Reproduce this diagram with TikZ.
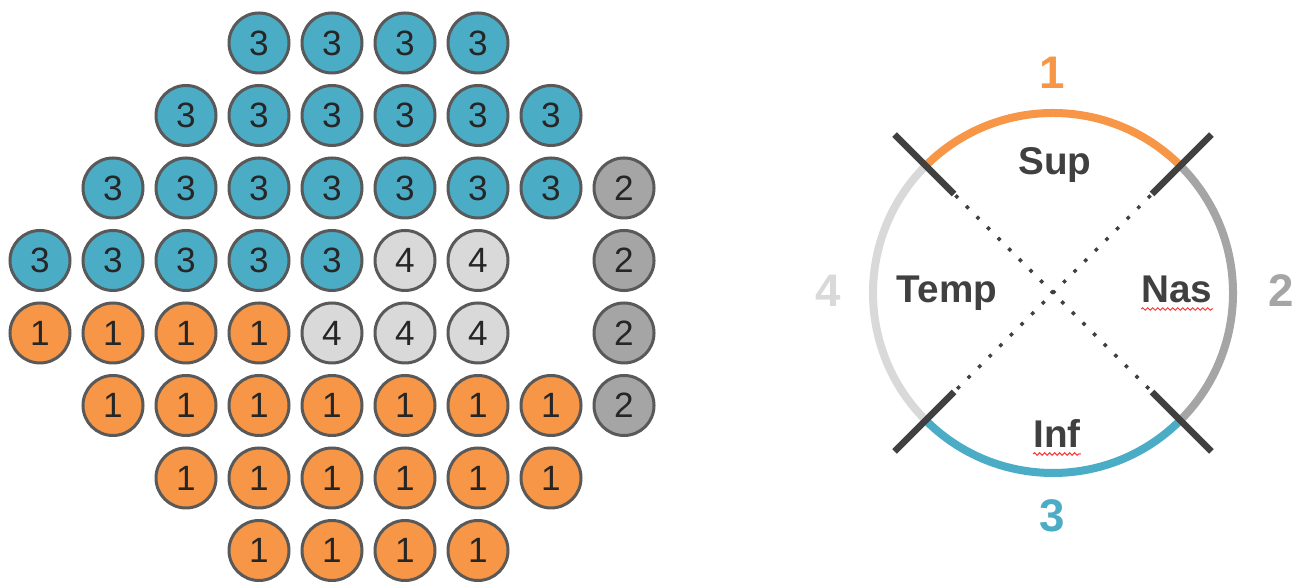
\documentclass[tikz,border=0pt]{standalone}
\usepackage{fontspec}
\setmainfont{Liberation Sans}
\usetikzlibrary{decorations.pathmorphing}

\definecolor{zone1}{HTML}{F79646}
\definecolor{zone2}{HTML}{A5A5A5}
\definecolor{zone3}{HTML}{4BACC6}
\definecolor{zone4}{HTML}{D9D9D9}
\definecolor{rim}{HTML}{595959}
\definecolor{ink}{HTML}{404040}

\tikzset{
  seat/.style={circle, draw=rim, line width=0.6mm, minimum size=12mm, inner sep=0pt,
    text=black!85, font=\fontsize{20}{24}\selectfont},
  band/.style={line width=1.6mm},
  cutmark/.style={draw=ink, line width=1.3mm},
  diag/.style={draw=ink, line width=0.7mm, dash pattern=on 0.7mm off 2.3mm},
  region/.style={text=ink, font=\bfseries\fontsize{22}{26}\selectfont, anchor=base, inner sep=0pt},
  zonelabel/.style={font=\bfseries\fontsize{26}{30}\selectfont, anchor=base},
  squiggle/.style={red!80, line width=0.2mm, decorate,
    decoration={snake, amplitude=0.25mm, segment length=1mm}}
}

\begin{document}
\begin{tikzpicture}[x=0.2mm, y=0.2mm]
	\useasboundingbox (0,0) rectangle (1301,583);
	% seat grid, rows from the top
	\foreach \r/\row in {0/{3/3,4/3,5/3,6/3},
	                     1/{2/3,3/3,4/3,5/3,6/3,7/3},
	                     2/{1/3,2/3,3/3,4/3,5/3,6/3,7/3,8/2},
	                     3/{0/3,1/3,2/3,3/3,4/3,5/4,6/4,8/2},
	                     4/{0/1,1/1,2/1,3/1,4/4,5/4,6/4,8/2},
	                     5/{1/1,2/1,3/1,4/1,5/1,6/1,7/1,8/2},
	                     6/{2/1,3/1,4/1,5/1,6/1,7/1},
	                     7/{3/1,4/1,5/1,6/1}}
		\foreach \c/\v in \row
			\node[seat, fill=zone\v] (s\r\c) at (40+73*\c, 540-72.5*\r) {\v};

	% sector ring
	\coordinate (o) at (1053,290);
	\draw[band, zone1] (o) ++(135:180) arc[start angle=135, end angle=45, radius=36mm];
	\draw[band, zone2] (o) ++(45:180) arc[start angle=45, end angle=-45, radius=36mm];
	\draw[band, zone3] (o) ++(-45:180) arc[start angle=-45, end angle=-135, radius=36mm];
	\draw[band, zone4] (o) ++(225:180) arc[start angle=225, end angle=135, radius=36mm];
	\draw[diag] (o) ++(135:138) -- ++(-45:276);
	\draw[diag] (o) ++(45:138) -- ++(225:276);
	\foreach \a in {45,135,225,315}
		\draw[cutmark] (o) ++(\a:140) -- ++(\a:84);

	\node[region] (sup) at (1055,408) {Sup};
	\node[region] (temp) at (947,280) {Temp};
	\node[region] (nas) at (1177,280) {Nas};
	\node[region] (inf) at (1057,135) {Inf};
	\draw[squiggle] ([yshift=-1.2mm]nas.base west) -- ([yshift=-1.2mm]nas.base east);
	\draw[squiggle] ([yshift=-1.2mm]inf.base west) -- ([yshift=-1.2mm]inf.base east);

	\node[zonelabel, text=zone1] (z1) at (1052,494) {1};
	\node[zonelabel, text=zone2] (z2) at (1281,276) {2};
	\node[zonelabel, text=zone3] (z3) at (1052,51) {3};
	\node[zonelabel, text=zone4] (z4) at (828,276) {4};
\end{tikzpicture}
\end{document}
